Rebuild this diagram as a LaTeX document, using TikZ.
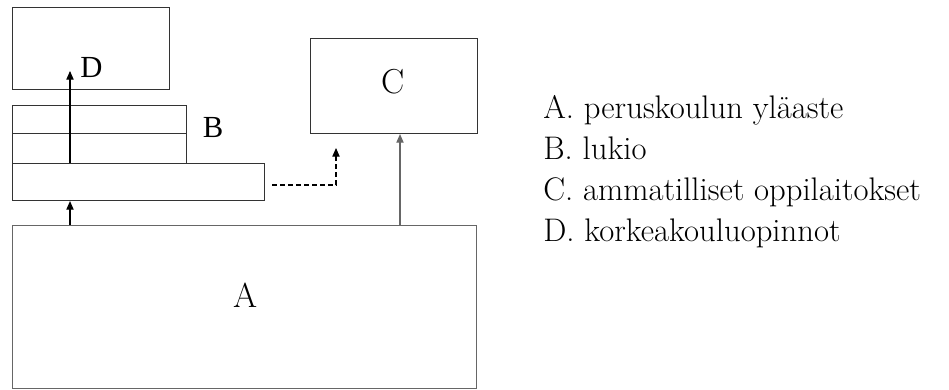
\documentclass[tikz,border=0pt]{standalone}
\usepackage{fontspec}
\usepackage{tikz}
\usetikzlibrary{arrows.meta, positioning}
\newfontfamily\timesfont{Liberation Serif}

\begin{document}
\begin{tikzpicture}[
  x=0.75pt, y=-0.75pt,
  box/.style={rectangle, draw=black!80, line width=0.8pt, inner sep=0pt, anchor=north west},
  graybox/.style={box, draw=black!60},
  arrow/.style={line width=0.8pt, -{Triangle[length=6.5pt, width=5.5pt]}},
  biglabel/.style={inner sep=0pt, font=\fontsize{26}{30}\selectfont},
  smalllabel/.style={inner sep=0pt, font=\timesfont\fontsize{23}{27}\selectfont},
  legend/.style={anchor=base west, inner sep=0pt, font=\fontsize{24.5}{29}\selectfont}
]
\useasboundingbox (0,0) rectangle (949,389);

% boxes
\node (korkea) [box, minimum width=157*0.75pt, minimum height=82*0.75pt] at (12,7) {};
\node (lukio1) [box, minimum width=174*0.75pt, minimum height=28*0.75pt] at (12,105) {};
\node (lukio2) [box, minimum width=174*0.75pt, minimum height=30*0.75pt] at (12,133) {};
\node (lukio3) [box, minimum width=252*0.75pt, minimum height=37*0.75pt] at (12,163) {};
\node (yla) [graybox, minimum width=464*0.75pt, minimum height=163*0.75pt] at (12,225) {};
\node (amm) [box, minimum width=167*0.75pt, minimum height=95*0.75pt] at (310,38) {};

% box labels
\node (labA) [biglabel] at (246,295) {A};
\node (labC) [biglabel] at (393,82) {C};
\node (labB) [smalllabel] at (213,128) {B};
\node (labD) [smalllabel, anchor=base west] at (80,77) {D};

% arrow ends
\coordinate (dtip) at (70,71);
\coordinate (ctip) at (400,0);
\coordinate (dstart) at (272,185);
\coordinate (dbend) at (336,185);
\coordinate (dend) at (336,148);

\draw [arrow] (dtip |- lukio3.north) -- (dtip);
\draw [arrow] (dtip |- yla.north) -- (dtip |- lukio3.south);
\draw [arrow, draw=black!60] (ctip |- yla.north) -- (ctip |- amm.south);
\draw [arrow, dashed, dash pattern=on 4pt off 2pt] (dstart) -- (dbend) -- (dend);

% legend
\node (legA) [legend] at (543,118) {A. peruskoulun yläaste};
\node (legB) [legend] at (543,159) {B. lukio};
\node (legC) [legend] at (543,200) {C. ammatilliset oppilaitokset};
\node (legD) [legend] at (543,241) {D. korkeakouluopinnot};
\end{tikzpicture}
\end{document}
